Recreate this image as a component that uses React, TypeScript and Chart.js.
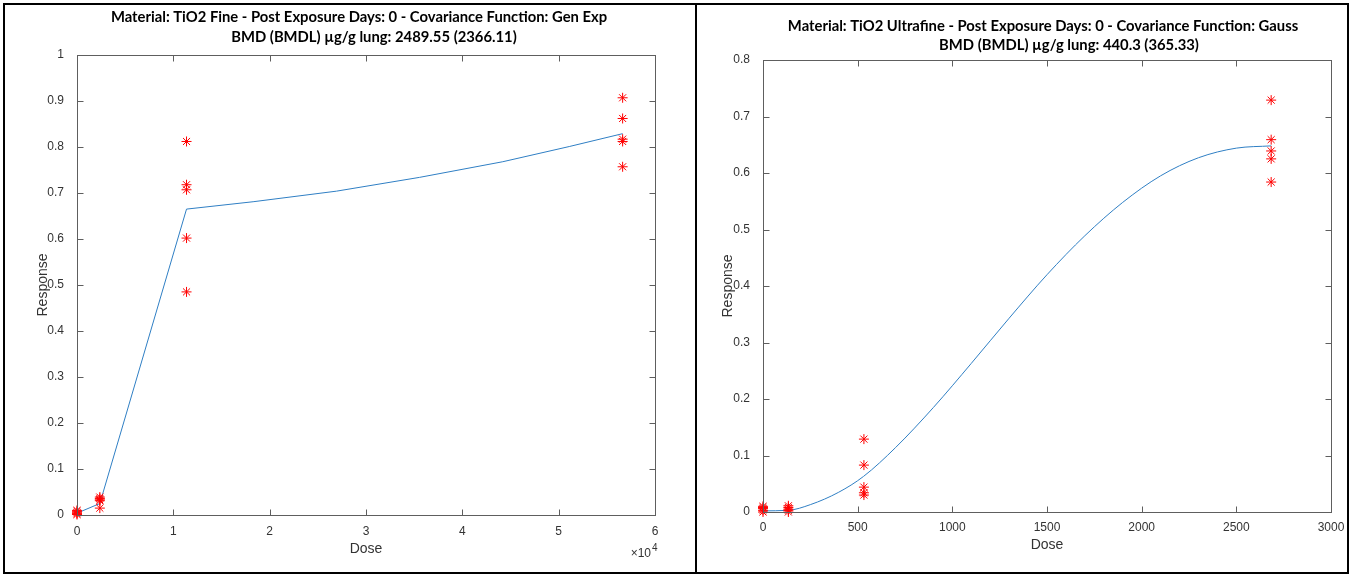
import React, { useEffect, useRef } from "react";
import { Chart, registerables } from "chart.js";

Chart.register(...registerables);

// ---------- TiO2 Fine (left panel) ----------
const fineTitle1 = "Material: TiO2 Fine - Post Exposure Days: 0 - Covariance Function: Gen Exp";
const fineTitle2 = "BMD (BMDL) µg/g lung: 2489.55 (2366.11)";
const fineObsDose = [
  0, 0, 0, 0, 0,
  2370, 2370, 2370, 2370, 2370,
  11370, 11370, 11370, 11370, 11370,
  56640, 56640, 56640, 56640, 56640,
];
const fineObsResp = [
  0.001, 0.003, 0.005, 0.008, 0.010,
  0.039, 0.036, 0.033, 0.031, 0.015,
  0.812, 0.718, 0.707, 0.602, 0.485,
  0.907, 0.862, 0.817, 0.812, 0.757,
];
const fineFitDose = [0, 2370, 11370, 18280, 26930, 35560, 44200, 51100, 56640];
const fineFitResp = [0.004, 0.025, 0.665, 0.681, 0.704, 0.734, 0.768, 0.801, 0.829];
const fineXTicks = [0, 10000, 20000, 30000, 40000, 50000, 60000];
const fineXTickLabels = ["0", "1", "2", "3", "4", "5", "6"];
const fineYTicks = [0, 0.1, 0.2, 0.3, 0.4, 0.5, 0.6, 0.7, 0.8, 0.9, 1];
const fineYTickLabels = ["0", "0.1", "0.2", "0.3", "0.4", "0.5", "0.6", "0.7", "0.8", "0.9", "1"];

// ---------- TiO2 Ultrafine (right panel) ----------
const ultraTitle1 = "Material: TiO2 Ultrafine - Post Exposure Days: 0 - Covariance Function: Gauss";
const ultraTitle2 = "BMD (BMDL) µg/g lung: 440.3 (365.33)";
const ultraObsDose = [
  0, 0, 0, 0, 0,
  134, 134, 134, 134, 134,
  533, 533, 533, 533, 533,
  2684, 2684, 2684, 2684, 2684,
];
const ultraObsResp = [
  0.000, 0.003, 0.006, 0.008, 0.010,
  0.000, 0.003, 0.005, 0.008, 0.011,
  0.129, 0.083, 0.044, 0.034, 0.030,
  0.729, 0.659, 0.639, 0.625, 0.584,
];
const ultraFitDose = [0, 134, 250, 400, 531, 700, 900, 1100, 1300, 1500, 1700, 1900, 2100, 2300, 2500, 2684];
const ultraFitResp = [0.002, 0.003, 0.013, 0.035, 0.063, 0.114, 0.185, 0.263, 0.343, 0.420, 0.489, 0.548, 0.595, 0.627, 0.644, 0.648];
const ultraXTicks = [0, 500, 1000, 1500, 2000, 2500, 3000];
const ultraXTickLabels = ["0", "500", "1000", "1500", "2000", "2500", "3000"];
const ultraYTicks = [0, 0.1, 0.2, 0.3, 0.4, 0.5, 0.6, 0.7, 0.8];
const ultraYTickLabels = ["0", "0.1", "0.2", "0.3", "0.4", "0.5", "0.6", "0.7", "0.8"];

const axisTitleX = "Dose";
const axisTitleY = "Response";

// ---------- styling ----------
const TICK_FONT = "'Liberation Sans', Arial, Helvetica, sans-serif";
const TITLE_FONT = "Lato, 'Open Sans', sans-serif";
const TEXT_COLOR = "#333333";
const BOX_COLOR = "#5e5e5e";
const FIT_COLOR = "#2f7fc4";
const MARK_COLOR = "#ff0000";

type Panel = {
  width: number;
  height: number;
  title1: string;
  title2: string;
  t1x: number; t1y: number; t2x: number; t2y: number;
  obsDose: number[]; obsResp: number[];
  fitDose: number[]; fitResp: number[];
  smooth: boolean;
  xMin: number; xMax: number; xTicks: number[]; xLabels: string[];
  yMin: number; yMax: number; yTicks: number[]; yLabels: string[];
  areaLeft: number; areaRight: number; areaTop: number; areaBottom: number;
  xTickPad: number; xTitlePad: number; yTitlePad: number;
  exponent?: { x: number; y: number };
};

function boxPlugin(p: Panel) {
  return {
    id: "matlabBox",
    afterDraw(chart: any) {
      const { ctx, chartArea: a, scales } = chart;
      ctx.save();
      const L = Math.round(a.left) + 0.5;
      const R = Math.round(a.right) + 0.5;
      const T = Math.round(a.top) + 0.5;
      const B = Math.round(a.bottom) + 0.5;
      ctx.strokeStyle = BOX_COLOR;
      ctx.lineWidth = 1;
      ctx.strokeRect(L, T, R - L, B - T);
      const tl = 6;
      ctx.beginPath();
      for (const t of scales.x.ticks) {
        const px = Math.round(scales.x.getPixelForValue(t.value)) + 0.5;
        ctx.moveTo(px, B); ctx.lineTo(px, B - tl);
        ctx.moveTo(px, T); ctx.lineTo(px, T + tl);
      }
      for (const t of scales.y.ticks) {
        const py = Math.round(scales.y.getPixelForValue(t.value)) + 0.5;
        ctx.moveTo(L, py); ctx.lineTo(L + tl, py);
        ctx.moveTo(R, py); ctx.lineTo(R - tl, py);
      }
      ctx.stroke();

      // titles
      ctx.fillStyle = "#000000";
      ctx.font = `bold 14.8px ${TITLE_FONT}`;
      ctx.textAlign = "center";
      ctx.textBaseline = "middle";
      ctx.fillText(p.title1, p.t1x, p.t1y);
      ctx.fillText(p.title2, p.t2x, p.t2y);

      // exponent label
      if (p.exponent) {
        ctx.fillStyle = TEXT_COLOR;
        ctx.textAlign = "right";
        ctx.textBaseline = "alphabetic";
        ctx.font = `12px ${TICK_FONT}`;
        ctx.fillText("×10", p.exponent.x - 7, p.exponent.y);
        ctx.textAlign = "left";
        ctx.font = `10px ${TICK_FONT}`;
        ctx.fillText("4", p.exponent.x - 6, p.exponent.y - 6);
      }
      ctx.restore();
    },
  };
}

function buildConfig(p: Panel): any {
  const tickFont = { family: TICK_FONT, size: 12 };
  const axTitleFont = { family: TICK_FONT, size: 14 };
  return {
    type: "scatter",
    data: {
      datasets: [
        {
          label: "Observed",
          data: p.obsDose.map((d, i) => ({ x: d, y: p.obsResp[i] })),
          showLine: false,
          pointStyle: "star",
          pointRadius: 5,
          borderColor: MARK_COLOR,
          backgroundColor: MARK_COLOR,
          borderWidth: 1,
          clip: false,
        },
        {
          label: "Fit",
          data: p.fitDose.map((d, i) => ({ x: d, y: p.fitResp[i] })),
          showLine: true,
          pointRadius: 0,
          borderColor: FIT_COLOR,
          backgroundColor: FIT_COLOR,
          borderWidth: 1,
          cubicInterpolationMode: p.smooth ? "monotone" : "default",
          tension: 0,
        },
      ],
    },
    options: {
      responsive: false,
      animation: false,
      events: [],
      layout: {
        padding: {
          left: 0,
          top: p.areaTop,
          right: p.width - p.areaRight,
          bottom: 0,
        },
      },
      plugins: {
        legend: { display: false },
        title: { display: false },
        tooltip: { enabled: false },
      },
      scales: {
        x: {
          type: "linear",
          min: p.xMin,
          max: p.xMax,
          afterBuildTicks: (s: any) => {
            s.ticks = p.xTicks.map((v) => ({ value: v }));
          },
          afterFit: (s: any) => {
            s.height = p.height - p.areaBottom;
          },
          ticks: {
            autoSkip: false,
            maxRotation: 0,
            padding: p.xTickPad,
            color: TEXT_COLOR,
            font: tickFont,
            callback: (_v: any, i: number) => p.xLabels[i],
          },
          grid: { display: false },
          border: { display: false },
          title: {
            display: true,
            text: axisTitleX,
            color: TEXT_COLOR,
            font: axTitleFont,
            padding: { top: 0, bottom: p.xTitlePad },
          },
        },
        y: {
          type: "linear",
          min: p.yMin,
          max: p.yMax,
          afterBuildTicks: (s: any) => {
            s.ticks = p.yTicks.map((v) => ({ value: v }));
          },
          afterFit: (s: any) => {
            s.width = p.areaLeft;
          },
          ticks: {
            autoSkip: false,
            padding: 5,
            color: TEXT_COLOR,
            font: tickFont,
            callback: (_v: any, i: number) => p.yLabels[i],
          },
          grid: { display: false },
          border: { display: false },
          title: {
            display: true,
            text: axisTitleY,
            color: TEXT_COLOR,
            font: axTitleFont,
            padding: { top: p.yTitlePad, bottom: 0 },
          },
        },
      },
    },
    plugins: [boxPlugin(p)],
  };
}

const leftPanel: Panel = {
  width: 696,
  height: 574,
  title1: fineTitle1,
  title2: fineTitle2,
  t1x: 359, t1y: 17, t2x: 374, t2y: 37,
  obsDose: fineObsDose, obsResp: fineObsResp,
  fitDose: fineFitDose, fitResp: fineFitResp,
  smooth: false,
  xMin: 0, xMax: 60000, xTicks: fineXTicks, xLabels: fineXTickLabels,
  yMin: 0, yMax: 1, yTicks: fineYTicks, yLabels: fineYTickLabels,
  areaLeft: 77, areaRight: 655, areaTop: 55, areaBottom: 515,
  xTickPad: 1, xTitlePad: 16.6, yTitlePad: 34.6,
  exponent: { x: 658, y: 557 },
};

const rightPanel: Panel = {
  width: 655,
  height: 574,
  title1: ultraTitle1,
  title2: ultraTitle2,
  t1x: 347, t1y: 26, t2x: 373, t2y: 45,
  obsDose: ultraObsDose, obsResp: ultraObsResp,
  fitDose: ultraFitDose, fitResp: ultraFitResp,
  smooth: true,
  xMin: 0, xMax: 3000, xTicks: ultraXTicks, xLabels: ultraXTickLabels,
  yMin: 0, yMax: 0.8, yTicks: ultraYTicks, yLabels: ultraYTickLabels,
  areaLeft: 67, areaRight: 635, areaTop: 60, areaBottom: 512,
  xTickPad: 0, xTitlePad: 20, yTitlePad: 23.6,
};

function ChartCanvas({ panel, left }: { panel: Panel; left: number }) {
  const ref = useRef<HTMLCanvasElement | null>(null);
  useEffect(() => {
    if (!ref.current) return;
    const chart = new Chart(ref.current, buildConfig(panel));
    return () => chart.destroy();
  }, [panel]);
  return (
    <canvas
      ref={ref}
      width={panel.width}
      height={panel.height}
      style={{ position: "absolute", left, top: 0, width: panel.width, height: panel.height }}
    />
  );
}

export default function App() {
  return (
    <div
      style={{
        position: "fixed",
        left: 0,
        top: 0,
        width: 1351,
        height: 574,
        background: "#ffffff",
        overflow: "hidden",
      }}
    >
      <ChartCanvas panel={leftPanel} left={0} />
      <ChartCanvas panel={rightPanel} left={696} />
      <div
        style={{
          position: "absolute",
          left: 3,
          top: 3,
          width: 690,
          height: 567,
          border: "2px solid #000",
          pointerEvents: "none",
        }}
      />
      <div
        style={{
          position: "absolute",
          left: 695,
          top: 3,
          width: 650,
          height: 567,
          border: "2px solid #000",
          pointerEvents: "none",
        }}
      />
    </div>
  );
}
